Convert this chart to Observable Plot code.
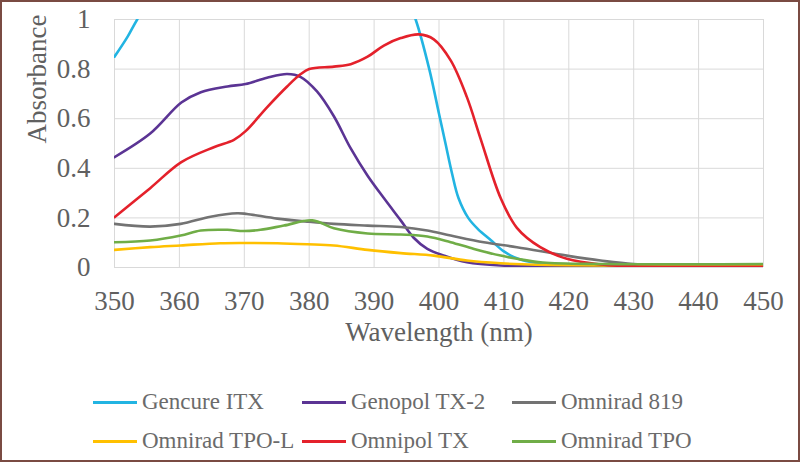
<!DOCTYPE html>
<html>
<head>
<meta charset="utf-8">
<title>Absorbance spectra</title>
<script src="https://cdn.jsdelivr.net/npm/d3@7"></script>
<script src="https://cdn.jsdelivr.net/npm/@observablehq/plot@0.6"></script>
</head>
<body style="margin:0;background:#fff">
<div id="wrap" style="position:relative;width:800px;height:462px;background:#fff;font-family:'Liberation Serif'">
  <div id="chart" style="position:absolute;left:0;top:0"></div>
  <div id="legend"></div>
  <div style="position:absolute;left:0;top:0;width:800px;height:462px;box-sizing:border-box;border:2px solid #7a4b43;pointer-events:none"></div>
</div>
<script>
const wavelengthTicks = [350, 360, 370, 380, 390, 400, 410, 420, 430, 440, 450];
const absorbanceTicks = [0, 0.2, 0.4, 0.6, 0.8, 1];

const seriesNames = ["Gencure ITX", "Genopol TX-2", "Omnirad 819", "Omnirad TPO-L", "Omnipol TX", "Omnirad TPO"];
const seriesColors = ["#22b4e2", "#5b3494", "#737373", "#ffc000", "#e4212b", "#70ad47"];

// [wavelength nm, absorbance]
const gencureITX = [[350,0.85],[352,0.93],[353.5,1.0],[356,1.1],[394.5,1.12],[396.4,1.0],[398.5,0.8],[400,0.62],[401,0.5],[402,0.38],[403,0.28],[404.5,0.2],[406,0.155],[408,0.11],[410,0.065],[412,0.037],[415,0.018],[420,0.011],[430,0.008],[450,0.008]];
const genopolTX2 = [[350,0.445],[355.5,0.54],[360.3,0.665],[363.3,0.707],[367.4,0.73],[370.2,0.74],[373.5,0.765],[376.6,0.78],[378.7,0.768],[381.2,0.71],[383.8,0.61],[386.4,0.48],[389,0.37],[391.5,0.28],[394.1,0.19],[396.1,0.12],[398.2,0.075],[400.7,0.048],[404.3,0.021],[409.5,0.008],[420,0.004],[450,0.003]];
const omnirad819 = [[350,0.176],[355.5,0.165],[360.2,0.176],[364.8,0.205],[368.9,0.219],[370.4,0.216],[375.1,0.197],[379.7,0.185],[383.8,0.176],[389,0.169],[394.1,0.163],[398.2,0.149],[401.8,0.129],[406.9,0.102],[412,0.082],[419.7,0.048],[424.9,0.028],[430,0.014],[440,0.01],[450,0.01]];
const omniradTPOL = [[350,0.071],[355.5,0.082],[360.2,0.089],[366.3,0.098],[369.9,0.099],[375.1,0.098],[379.7,0.094],[383.8,0.089],[389,0.071],[394.1,0.058],[399.2,0.048],[404.3,0.028],[409.5,0.017],[415,0.011],[430,0.008],[450,0.008]];
const omnipolTX = [[350,0.203],[355.5,0.32],[360.3,0.425],[365.3,0.485],[368.4,0.515],[370.2,0.55],[373.5,0.646],[376.6,0.73],[378.7,0.78],[380,0.80],[383.8,0.81],[386.4,0.82],[389,0.85],[391.5,0.895],[394.1,0.925],[396.9,0.94],[399.2,0.92],[401.8,0.835],[404.3,0.687],[406.4,0.52],[409.5,0.28],[412,0.16],[415.6,0.082],[419.7,0.035],[424.9,0.012],[430,0.005],[450,0.003]];
const omniradTPO = [[350,0.102],[355.5,0.109],[360.2,0.129],[363.3,0.149],[367.4,0.152],[369.9,0.147],[372.5,0.152],[376.1,0.169],[380.5,0.19],[383.8,0.158],[389,0.137],[394.1,0.133],[398.2,0.125],[401.8,0.102],[405.4,0.075],[409.5,0.048],[412,0.035],[416,0.02],[425,0.014],[450,0.014]];

const seriesData = [gencureITX, genopolTX2, omnirad819, omniradTPOL, omnipolTX, omniradTPO];

const font = "Liberation Serif";

const lines = seriesData.map((data, i) =>
  Plot.line(data, {x: d => d[0], y: d => d[1], stroke: seriesColors[i], strokeWidth: 2.6, curve: "catmull-rom", clip: true})
);

const chart = Plot.plot({
  width: 800,
  height: 370,
  marginLeft: 114,
  marginRight: 37,
  marginTop: 19,
  marginBottom: 103,
  x: {domain: [350, 450]},
  y: {domain: [0, 1]},
  style: {fontFamily: font, color: "#606060"},
  marks: [
    Plot.gridX(wavelengthTicks, {stroke: "#d9d9d9", strokeOpacity: 1, strokeWidth: 1}),
    Plot.gridY(absorbanceTicks, {stroke: "#d9d9d9", strokeOpacity: 1, strokeWidth: 1}),
    Plot.axisX(wavelengthTicks, {tickSize: 0, tickPadding: 23, fontSize: 27, fontFamily: font, label: null, tickFormat: d => String(d)}),
    Plot.axisY(absorbanceTicks, {tickSize: 0, tickPadding: 24, fontSize: 27, fontFamily: font, label: null, tickFormat: d => String(d)}),
    Plot.text(["Wavelength (nm)"], {frameAnchor: "bottom", dy: 73, fontSize: 27, fontFamily: font, fill: "#606060"}),
    Plot.text(["Absorbance"], {frameAnchor: "left", dx: -77, rotate: -90, fontSize: 27, fontFamily: font, fill: "#606060"}),
    ...lines
  ]
});
document.getElementById("chart").appendChild(chart);

// legend
const legend = document.getElementById("legend");
const colX = [93, 302, 512];
const rowY = [402, 441];
seriesNames.forEach((name, i) => {
  const col = i % 3, row = Math.floor(i / 3);
  const sw = document.createElement("div");
  sw.style.position = "absolute";
  sw.style.width = "44px";
  sw.style.height = "3px";
  sw.style.left = colX[col] + "px";
  sw.style.top = (rowY[row] - 1.5) + "px";
  sw.style.background = seriesColors[i];
  legend.appendChild(sw);
  const t = document.createElement("div");
  t.style.position = "absolute";
  t.style.fontFamily = "'Liberation Serif'";
  t.style.fontSize = "23px";
  t.style.lineHeight = "1";
  t.style.whiteSpace = "nowrap";
  t.style.color = "#6b6b6b";
  t.textContent = name;
  t.style.left = (colX[col] + 49) + "px";
  t.style.top = (rowY[row] - 12) + "px";
  legend.appendChild(t);
});
</script>
</body>
</html>
